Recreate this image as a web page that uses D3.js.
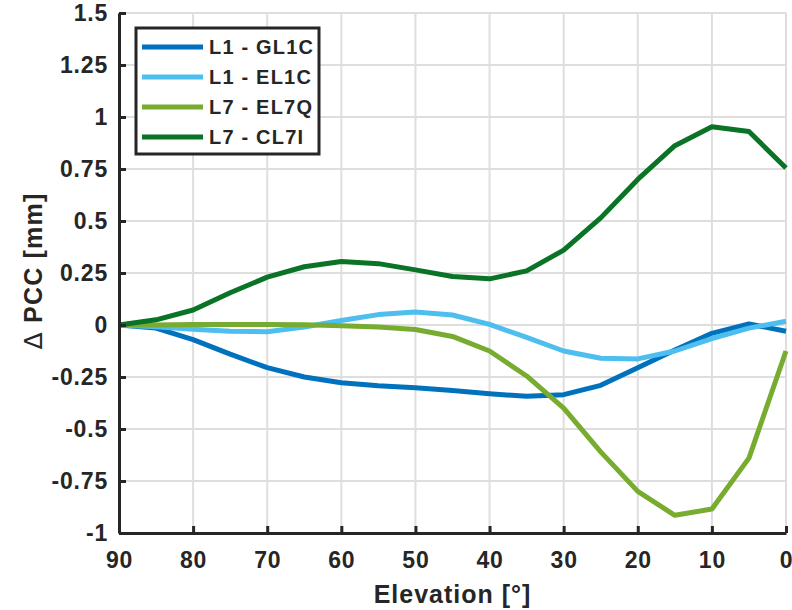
<!DOCTYPE html>
<html>
<head>
<meta charset="utf-8">
<script src="https://cdn.jsdelivr.net/npm/d3@7"></script>
<style>
  body { margin: 0; background: #fff; }
  text { font-family: "Liberation Sans", Arial, sans-serif; font-weight: bold; fill: #262626; }
</style>
</head>
<body>
<div id="chart"></div>
<script>
// elevation angles (deg), every 5 from 90 down to 0
const elevation = [90, 85, 80, 75, 70, 65, 60, 55, 50, 45, 40, 35, 30, 25, 20, 15, 10, 5, 0];

const gl1c = [0, -0.015, -0.07, -0.14, -0.205, -0.25, -0.278, -0.292, -0.302, -0.315, -0.33, -0.343, -0.335, -0.29, -0.205, -0.12, -0.04, 0.005, -0.03];
const el1c = [0, -0.008, -0.02, -0.03, -0.032, -0.01, 0.022, 0.05, 0.063, 0.048, 0.003, -0.06, -0.125, -0.16, -0.163, -0.125, -0.065, -0.015, 0.018];
const el7q = [0, 0, 0.002, 0.003, 0.003, 0.001, -0.004, -0.01, -0.022, -0.055, -0.125, -0.245, -0.4, -0.61, -0.8, -0.915, -0.885, -0.64, -0.125];
const cl7i = [0, 0.025, 0.072, 0.155, 0.23, 0.28, 0.305, 0.295, 0.265, 0.233, 0.222, 0.26, 0.36, 0.515, 0.70, 0.862, 0.953, 0.93, 0.755];

const seriesNames = ['L1 - GL1C', 'L1 - EL1C', 'L7 - EL7Q', 'L7 - CL7I'];
const seriesColors = ['#0072bd', '#4dbeee', '#77ac30', '#0a7326'];
const seriesValues = [gl1c, el1c, el7q, cl7i];

const xTicks = [90, 80, 70, 60, 50, 40, 30, 20, 10, 0];
const yTicks = [-1, -0.75, -0.5, -0.25, 0, 0.25, 0.5, 0.75, 1, 1.25, 1.5];

const W = 792, H = 610;
const margin = { top: 13, right: 6, bottom: 77, left: 119 };
const width = W - margin.left - margin.right;
const height = H - margin.top - margin.bottom;

const svg = d3.select('#chart').append('svg')
  .attr('width', W).attr('height', H);
const g = svg.append('g').attr('transform', `translate(${margin.left},${margin.top})`);

const x = d3.scaleLinear().domain([90, 0]).range([0, width]);
const y = d3.scaleLinear().domain([-1, 1.5]).range([height, 0]);

// grid
g.append('g').selectAll('line').data(xTicks).enter().append('line')
  .attr('x1', d => x(d)).attr('x2', d => x(d))
  .attr('y1', 0).attr('y2', height)
  .attr('stroke', '#dedede').attr('stroke-width', 2);
g.append('g').selectAll('line').data(yTicks).enter().append('line')
  .attr('x1', 0).attr('x2', width)
  .attr('y1', d => y(d)).attr('y2', d => y(d))
  .attr('stroke', '#dedede').attr('stroke-width', 2);

// lines
const line = d3.line()
  .x((d, i) => x(elevation[i]))
  .y(d => y(d));
seriesValues.forEach((vals, k) => {
  g.append('path')
    .datum(vals)
    .attr('d', line)
    .attr('fill', 'none')
    .attr('stroke', seriesColors[k])
    .attr('stroke-width', 5)
    .attr('stroke-linejoin', 'round');
});

// axes
const xAxis = g.append('g').attr('transform', `translate(0,${height})`)
  .call(d3.axisBottom(x).tickValues(xTicks).tickSizeInner(-7).tickSizeOuter(0).tickPadding(19).tickFormat(d3.format('d')));
const yAxis = g.append('g')
  .call(d3.axisLeft(y).tickValues(yTicks).tickSizeInner(-7).tickSizeOuter(0).tickPadding(11).tickFormat(d => String(d)));
[xAxis, yAxis].forEach(ax => {
  ax.select('.domain').attr('stroke', '#262626').attr('stroke-width', 3);
  ax.selectAll('.tick line').attr('stroke', '#262626').attr('stroke-width', 3);
  ax.selectAll('.tick text').attr('font-size', 23).attr('fill', '#262626')
    .attr('letter-spacing', 0.8)
    .attr('font-family', '"Liberation Sans", Arial, sans-serif').attr('font-weight', 'bold');
});

// axis labels
svg.append('text')
  .attr('x', margin.left + width / 2).attr('y', 603)
  .attr('text-anchor', 'middle').attr('font-size', 25).attr('letter-spacing', 1)
  .text('Elevation [°]');
const yl = svg.append('text')
  .attr('transform', `translate(42,${margin.top + height / 2 - 2}) rotate(-90)`)
  .attr('text-anchor', 'middle').attr('font-size', 25).attr('letter-spacing', 1.2);
yl.append('tspan').attr('font-weight', 'normal').attr('font-family', '"DejaVu Sans", sans-serif').text('Δ');
yl.append('tspan').text(' PCC [mm]');

// legend
const leg = svg.append('g').attr('transform', 'translate(136,28)');
leg.append('rect')
  .attr('width', 183).attr('height', 126)
  .attr('fill', '#fff').attr('stroke', '#262626').attr('stroke-width', 3);
seriesNames.forEach((name, k) => {
  const yy = 19 + k * 30;
  leg.append('line')
    .attr('x1', 6).attr('x2', 67).attr('y1', yy).attr('y2', yy)
    .attr('stroke', seriesColors[k]).attr('stroke-width', 5);
  leg.append('text')
    .attr('x', 73).attr('y', yy + 7)
    .attr('font-size', 20).attr('letter-spacing', 1.2)
    .text(name);
});
</script>
</body>
</html>
